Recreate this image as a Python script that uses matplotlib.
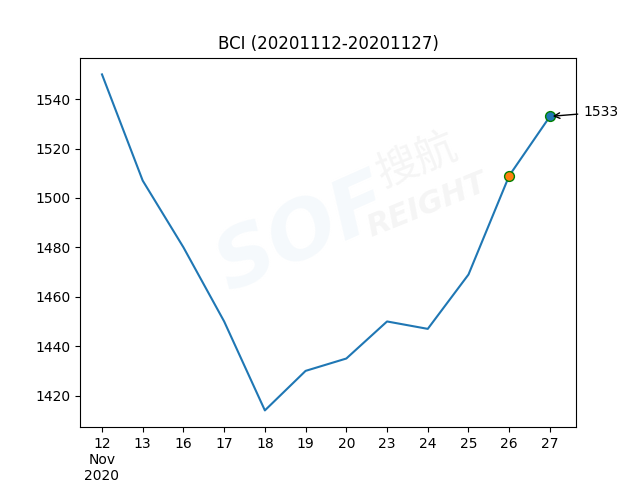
import matplotlib
matplotlib.use('Agg')
import matplotlib.pyplot as plt
import numpy as np

# BCI values, Nov 2020 (business days)
days = ['12', '13', '16', '17', '18', '19', '20', '23', '24', '25', '26', '27']
bci = [1550, 1507, 1480, 1450, 1414, 1430, 1435, 1450, 1447, 1469, 1509, 1533]
first_label = '12\nNov\n2020'

x = np.arange(len(days))
labels = [first_label] + days[1:]

fig, ax = plt.subplots(figsize=(6.4, 4.8), dpi=100)

# faint watermark
ax.text(0.45, 0.52, 'SOF', transform=ax.transAxes, fontsize=58, fontweight='bold',
        style='italic', color='#f5f9fc', rotation=24, ha='center', va='center', zorder=0)
ax.text(0.68, 0.72, '搜航', transform=ax.transAxes, fontsize=30, color='#f5f5f5',
        rotation=22, ha='center', va='center', zorder=0,
        family=['Noto Sans CJK SC', 'DejaVu Sans'])
ax.text(0.70, 0.60, 'REIGHT', transform=ax.transAxes, fontsize=22, fontweight='bold',
        style='italic', color='#f5f5f5', rotation=22, ha='center', va='center', zorder=0)

ax.plot(x, bci, color='C0')
ax.scatter(x[-2], bci[-2], s=50, color='C1', edgecolors='g', zorder=3)
ax.scatter(x[-1], bci[-1], s=50, color='C0', edgecolors='g', zorder=3)
ax.annotate(str(bci[-1]), xy=(x[-1], bci[-1]), xytext=(24, 3),
            textcoords='offset points', va='center', fontsize=10,
            arrowprops=dict(arrowstyle='->', color='k'))

ax.set_xticks(x)
ax.set_xticklabels(labels)
ax.set_xlim(-0.54, 11.64)
ax.set_title('BCI (20201112-20201127)')

fig.savefig('out.png')
